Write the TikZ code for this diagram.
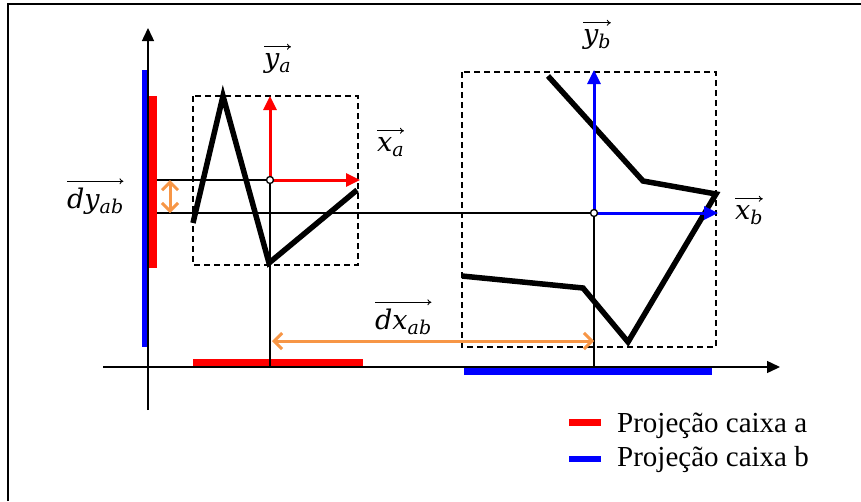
\documentclass[tikz,border=0pt]{standalone}
\usepackage{fontspec}
\setmainfont{Liberation Serif}
\newfontfamily\labfont{DejaVu Serif}
\usetikzlibrary{arrows.meta}
\definecolor{orng}{RGB}{247,150,70}
\newcommand{\vlab}[2]{{\labfont\itshape\fontsize{27}{27}\selectfont #1\raisebox{-5.5pt}{\fontsize{19}{19}\selectfont #2}}}
\begin{document}
\begin{tikzpicture}[x=1pt,y=-1pt,
  thinline/.style={line width=1.4pt,black},
  poly/.style={line width=5.5pt,black,line join=miter},
  boxd/.style={draw,dashed,line width=1.3pt,dash pattern=on 6pt off 4pt},
  axisarrow/.style={line width=1.4pt,-{Triangle[length=13pt,width=12pt]}},
  redarrow/.style={line width=3pt,red,-{Triangle[length=14pt,width=13pt]}},
  bluearrow/.style={line width=3pt,blue,-{Triangle[length=14pt,width=13pt]}},
  dblarrow/.style={line width=3pt,orng,{Straight Barb[length=8pt,width=16pt]}-{Straight Barb[length=8pt,width=16pt]}},
  vecarrow/.style={line width=0.9pt,-{To[length=4pt,width=6pt]}},
  mlabel/.style={inner sep=0pt,anchor=base west},
  legtext/.style={anchor=base west,inner sep=0pt,font=\fontsize{29}{34}\selectfont},
  origin/.style={circle,draw,fill=white,line width=1.3pt,inner sep=0pt,minimum size=7pt}
]
\useasboundingbox (0,0) rectangle (861,501);
% frame (left and top only)
\draw[line width=1.6pt] (8,501) -- (8,4) -- (861,4);

% key coordinates
\coordinate (yb0) at (148,410);
\coordinate (yt) at (148,28);
\coordinate (xl) at (103,367);
\coordinate (xr) at (780,367);
\coordinate (oa) at (270,180);
\coordinate (ob) at (594,213);

% projection bars
\fill[blue] (142,70) rectangle (149,347);
\fill[red] (149,96) rectangle (157,268);
\fill[red] (193,359) rectangle (363,366.5);
\fill[blue] (464,367.5) rectangle (712,375);

% axes
\draw[axisarrow] (yb0) -- (yt);
\draw[axisarrow] (xl) -- (xr);

% thin guide lines
\coordinate (ga) at (157,180);
\coordinate (gb) at (157,213);
\coordinate (xa0) at (270,367);
\coordinate (xb0) at (594,367);
\draw[thinline] (ga) -- (oa);
\draw[thinline] (gb) -- (ob);
\draw[thinline] (oa) -- (xa0);
\draw[thinline] (ob) -- (xb0);

% dashed boxes
\draw[boxd] (193,96) rectangle (358,265);
\draw[boxd] (462,72) rectangle (716,347);

% polylines
\draw[poly] (193,223) -- (223,96) -- (269,263) -- (357,190);
\draw[poly] (548,76) -- (643,181) -- (716,194) -- (628,342) -- (583,288) -- (462,276);

% local axes
\coordinate (yaT) at (270,96);
\coordinate (xaT) at (360,180);
\coordinate (ybT) at (594,70);
\coordinate (xbT) at (718,213);
\draw[redarrow] (oa) -- (yaT);
\draw[redarrow] (oa) -- (xaT);
\draw[bluearrow] (ob) -- (ybT);
\draw[bluearrow] (ob) -- (xbT);
\node[origin] (oan) at (oa) {};
\node[origin] (obn) at (ob) {};

% distance arrows
\coordinate (dyT) at (170,180);
\coordinate (dyB) at (170,213);
\coordinate (dxL) at (272,341);
\coordinate (dxR) at (594,341);
\draw[dblarrow] (dyT) -- (dyB);
\draw[dblarrow] (dxL) -- (dxR);

% labels
\node[mlabel] (lya) at (264,67) {\vlab{y}{a}};
\node[mlabel] (lxa) at (377,151) {\vlab{x}{a}};
\node[mlabel] (lyb) at (583,43) {\vlab{y}{b}};
\node[mlabel] (lxb) at (735,219) {\vlab{x}{b}};
\node[mlabel] (ldy) at (67,208) {\vlab{dy}{ab}};
\node[mlabel] (ldx) at (375,329) {\vlab{dx}{ab}};
\foreach \n in {lya,lxa,lyb,lxb,ldy,ldx}
  \draw[vecarrow] ([yshift=6pt]\n.north west) -- ([yshift=6pt]\n.north east);

% legend
\fill[red] (569,419) rectangle (601,426);
\fill[blue] (569,456) rectangle (601,462);
\node[legtext] (lega) at (617,432) {Projeção caixa a};
\node[legtext] (legb) at (617,466) {Projeção caixa b};
\end{tikzpicture}
\end{document}
